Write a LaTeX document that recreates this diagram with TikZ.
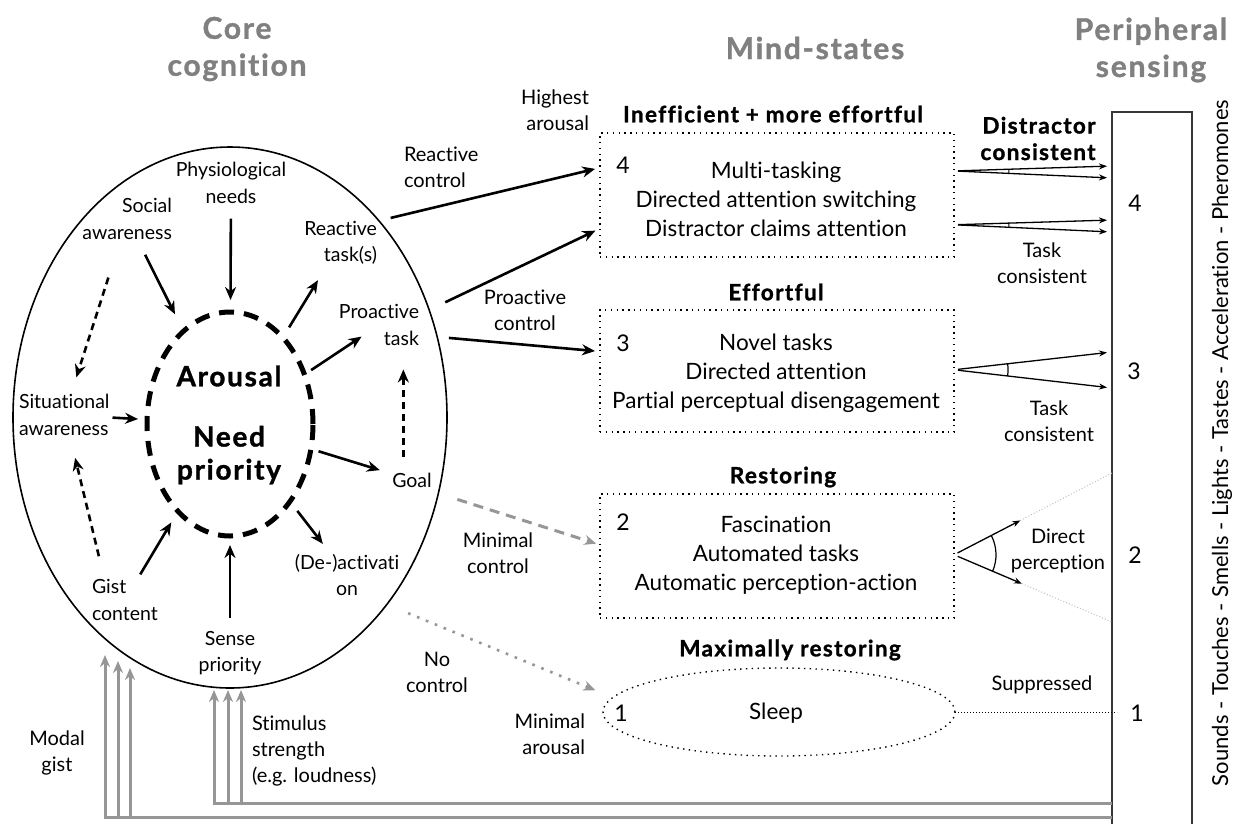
\documentclass[tikz,border=0pt]{standalone}
\usepackage{fontspec}
\setmainfont{Lato}[Ligatures=NoCommon]
\newfontfamily\headfont{Lato}[Ligatures=NoCommon,LetterSpace=6,BoldFeatures={FakeBold=1.2}]
\usetikzlibrary{arrows.meta,shapes.geometric,calc}
\definecolor{headgrey}{RGB}{128,128,128}
\definecolor{feedgrey}{RGB}{150,150,150}
\definecolor{framegrey}{RGB}{55,55,55}
\definecolor{faintgrey}{RGB}{190,190,190}

\begin{document}
\begin{tikzpicture}[x=1pt,y=-1pt,
  every node/.style={inner sep=0pt,outer sep=0pt},
  inner/.style={font=\fontsize{19.5}{26.5}\selectfont,align=center},
  hubtxt/.style={font=\fontsize{28}{33}\selectfont\headfont\bfseries,align=center},
  header/.style={font=\fontsize{30}{37}\selectfont\headfont\bfseries,text=headgrey,align=center},
  statehead/.style={font=\fontsize{22.5}{26}\selectfont\headfont\bfseries,align=center},
  statetxt/.style={font=\fontsize{22.5}{28.8}\selectfont,align=center},
  numtxt/.style={font=\fontsize{23}{25}\selectfont},
  small/.style={font=\fontsize{20}{26}\selectfont,align=center},
  smallbold/.style={font=\fontsize{22.5}{26.5}\selectfont\headfont\bfseries,align=right},
  dots/.style={line width=1.4pt,dash pattern=on 1.4pt off 4.4pt},
  statebox/.style={draw,dots,minimum width=354,minimum height=124},
  arr/.style={line width=2.6pt,-{Stealth[length=13pt,width=11pt]}},
  darr/.style={arr,dash pattern=on 7pt off 5pt},
  thinarr/.style={line width=1.3pt,-{Stealth[length=8pt,width=6pt]}},
  feed/.style={draw=feedgrey,line width=3pt,-{Stealth[length=12pt,width=10pt]}},
  greydash/.style={draw=feedgrey,line width=3pt,dash pattern=on 10pt off 7pt,
                   -{Stealth[length=12pt,width=10pt]},feedgrey},
  greydot/.style={draw=feedgrey,line width=2.6pt,dash pattern=on 2.6pt off 7pt,
                  -{Stealth[length=12pt,width=10pt]},feedgrey},
  faintdot/.style={draw=faintgrey,line width=1pt,dash pattern=on 1pt off 2pt},
]
\useasboundingbox (0,0) rectangle (1233,823);

% ---------- column headers ----------
\node[header] (hcore) at (237,49) {Core\\cognition};
\node[header] (hmind) at (815,48) {Mind-states};
\node[header] (hperi) at (1151,50) {Peripheral\\sensing};

% ---------- core cognition ----------
\node[draw,line width=1.6pt,ellipse,minimum width=434,minimum height=541] (core) at (230,417.5) {};
\node[draw,ellipse,line width=5pt,dash pattern=on 15pt off 10pt,
      minimum width=166,minimum height=224] (hub) at (230,424) {};
\node[hubtxt] (arousal) at (229,376) {Arousal};
\node[hubtxt] (need) at (229,455) {Need\\priority};

\node[inner] (phys) at (231,183) {Physiological\\needs};
\node[inner,align=right,anchor=east] (social) at (172,219) {Social\\awareness};
\node[inner,align=right,anchor=east] (react) at (377,243) {Reactive\\task(s)};
\node[inner,align=right,anchor=east] (proact) at (419,325) {Proactive\\task};
\node[inner,align=left,anchor=west] (sit) at (19,415) {Situational\\awareness};
\node[inner] (goal) at (412,480) {Goal};
\node[inner] (deact) at (347,575) {(De-)activati\\on};
\node[inner,align=left,anchor=west] (gist) at (92,600) {Gist\\content};
\node[inner] (sense) at (230,653) {Sense\\priority};

% inputs to the hub
\draw[arr,shorten <=15pt,shorten >=12pt] (phys) -- (hub);
\draw[arr,shorten <=17pt,shorten >=19pt] (social) -- (hub);
\draw[arr,shorten <=3pt,shorten >=9pt] (sit) -- (hub);
\draw[arr,shorten <=6pt,shorten >=13pt] (gist) -- (hub);
\draw[arr,shorten <=13pt,shorten >=9pt] (sense) -- (hub);
% outputs of the hub
\draw[arr,shorten <=12pt,shorten >=18pt] (hub) -- (react);
\draw[arr,shorten <=8pt,shorten >=-16pt] (hub) -- (proact);
\draw[arr,shorten <=8pt,shorten >=13pt] (hub) -- (goal);
\draw[arr,shorten <=12pt,shorten >=13pt] (hub) -- (deact);
% dashed influences
\draw[darr,shorten <=40pt,shorten >=18pt] (social) -- (sit);
\draw[darr,shorten <=24pt,shorten >=23pt] (gist.135) -- (sit.-75);
\draw[darr,shorten <=16pt,shorten >=24pt] (goal.140) -- (goal.140 |- proact.south);

% ---------- mind-states ----------
\node[statehead] (h4) at (773,114) {Inefficient + more effortful};
\node[statebox] (box4) at (777,195) {};
\node[numtxt] (n4) at (623,165) {4};
\node[statetxt] (t4) at (776,199) {Multi-tasking\\Directed attention switching\\Distractor claims attention};

\node[statehead] (h3) at (776,292) {Effortful};
\node[statebox,minimum height=122] (box3) at (777,371) {};
\node[numtxt] (n3) at (623,343) {3};
\node[statetxt] (t3) at (776,373.5) {Novel tasks\\Directed attention\\Partial perceptual disengagement};

\node[statehead] (h2) at (783,477) {Restoring};
\node[statebox] (box2) at (777,556) {};
\node[numtxt] (n2) at (623,522) {2};
\node[statetxt] (t2) at (776,555) {Fascination\\Automated tasks\\Automatic perception-action};

\node[statehead] (h1) at (790,650) {Maximally restoring};
\node[draw,dots,ellipse,minimum width=352,minimum height=88] (sleep) at (779,712) {};
\node[numtxt] (n1) at (621,713) {1};
\node[statetxt] (t1) at (776,713) {Sleep};

% control routes
\node[small,align=right,anchor=east] (lhigh) at (589,110) {Highest\\arousal};
\node[small,align=left,anchor=west] (lreact) at (404,167.5) {Reactive\\control};
\node[small] (lproact) at (525,310) {Proactive\\control};
\node[small] (lminc) at (498,553) {Minimal\\control};
\node[small] (lnoc) at (437,672.5) {No\\control};
\node[small,align=right,anchor=east] (lmina) at (585,734) {Minimal\\arousal};

\draw[arr,shorten <=14pt,shorten >=5pt] (react.north east) -- ($(box4.north west)!0.28!(box4.south west)$);
\draw[arr,shorten <=29pt,shorten >=5pt] ($(proact.north east)!0.5!(proact.east)$) -- ($(box4.north west)!0.77!(box4.south west)$);
\draw[arr,shorten <=30pt,shorten >=5pt] ($(proact.east)!0.5!(proact.south east)$) -- ($(box3.north west)!0.34!(box3.south west)$);
\draw[greydash,shorten <=20pt,shorten >=4pt] (core.-20) -- ($(box2.north west)!0.41!(box2.south west)$);
\draw[greydot,shorten <=23pt,shorten >=19pt] (core.-50) -- (sleep.175);

% ---------- peripheral sensing ----------
\node[draw=framegrey,line width=2pt,minimum width=80,minimum height=720,anchor=north west] (periph) at (1112,112) {};
\node[numtxt] (p4) at (1135,203) {4};
\node[numtxt] (p3) at (1134,371) {3};
\node[numtxt] (p2) at (1135,555) {2};
\node[numtxt] (p1) at (1137,713) {1};
\node[font=\fontsize{22}{24}\selectfont,rotate=90] (senses) at (1222,443)
  {Sounds - Touches - Smells - Lights - Tastes - Acceleration - Pheromones};

\node[smallbold] (ldist) at (1038,138.5) {Distractor\\consistent};
\node[small] (ltask4) at (1042,263.5) {Task\\consistent};
\node[small] (ltask3) at (1049,421.5) {Task\\consistent};
\node[small] (ldirect) at (1058,551) {Direct\\perception};
\node[small] (lsupp) at (1042,685) {Suppressed};

% state 4: distractor and task consistent sensing
\coordinate (v4a) at ($(box4.north east)!0.306!(box4.south east)$);
\coordinate (v4b) at ($(box4.north east)!0.74!(box4.south east)$);
\draw[thinarr,shorten <=4pt,shorten >=5pt] (v4a) -- ($(periph.north west)+(0,54)$);
\draw[thinarr,shorten <=4pt,shorten >=5pt] (v4a) -- ($(periph.north west)+(0,66)$);
\draw[line width=1pt] (v4a) ++(-1.9:55) arc[start angle=-1.9,end angle=2.3,radius=55];
\draw[thinarr,shorten <=4pt,shorten >=5pt] (v4b) -- ($(periph.north west)+(0,108)$);
\draw[thinarr,shorten <=4pt,shorten >=5pt] (v4b) -- ($(periph.north west)+(0,120)$);
\draw[line width=1pt] (v4b) ++(-1.9:55) arc[start angle=-1.9,end angle=2.3,radius=55];

% state 3: task consistent sensing
\coordinate (v3) at ($(box3.north east)!0.49!(box3.south east)$);
\draw[thinarr,shorten <=4pt,shorten >=5pt] (v3) -- ($(periph.north west)+(0,240)$);
\draw[thinarr,shorten <=4pt,shorten >=5pt] (v3) -- ($(periph.north west)+(0,276)$);
\draw[line width=1.2pt] (v3) ++(-6.5:54) arc[start angle=-6.5,end angle=6.5,radius=54];

% state 2: direct perception
\coordinate (v2) at ($(box2.north east)!0.49!(box2.south east)$);
\coordinate (p2a) at ($(periph.north west)+(0,361)$);
\coordinate (p2b) at ($(periph.north west)+(0,510)$);
\coordinate (t2a) at ($(v2)!0.42!(p2a)$);
\coordinate (t2b) at ($(v2)!0.43!(p2b)$);
\draw[thinarr,shorten <=4pt] (v2) -- (t2a);
\draw[thinarr,shorten <=4pt] (v2) -- (t2b);
\draw[faintdot] (t2a) -- (p2a);
\draw[faintdot] (t2b) -- (p2b);
\draw[line width=1.2pt] (v2) ++(-27.3:42) arc[start angle=-27.3,end angle=23.1,radius=42];

% state 1: suppressed sensing
\draw[line width=1pt,dash pattern=on 1pt off 2pt] (sleep.east) -- ($(periph.north west)+(5,600)$);

% ---------- feedback from the senses ----------
\coordinate (busA0) at (105,817);
\coordinate (busA1) at (118,817);
\coordinate (busA2) at (130,817);
\coordinate (busB0) at (214,803);
\coordinate (busB1) at (228,803);
\coordinate (busB2) at (241,803);
\draw[feed] (busA0 -| periph.west) -- (busA0) -- ++(0,-162);
\draw[feed] (busA1) -- ++(0,-156);
\draw[feed] (busA2) -- ++(0,-149);
\draw[feed] (busB0 -| periph.west) -- (busB0) -- ++(0,-113);
\draw[feed] (busB1) -- ++(0,-113);
\draw[feed] (busB2) -- ++(0,-113);

\node[small] (lmodal) at (57,753) {Modal\\gist};
\node[small,align=left,anchor=west] (lstim) at (252,751) {Stimulus\\strength\\(e.g. loudness)};

\end{tikzpicture}
\end{document}
